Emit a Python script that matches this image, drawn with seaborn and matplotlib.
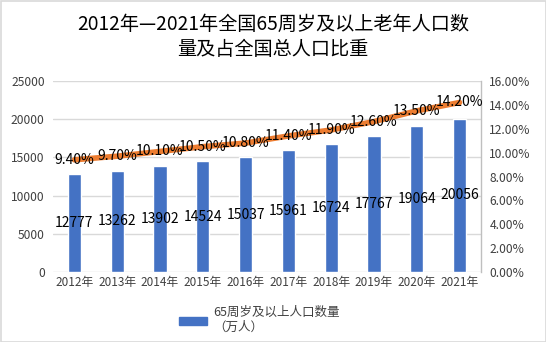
import matplotlib
matplotlib.use("Agg")
import matplotlib.pyplot as plt
import seaborn as sns
import numpy as np
import pandas as pd
from matplotlib.patches import Rectangle, Patch

years = ["2012年", "2013年", "2014年", "2015年", "2016年", "2017年", "2018年", "2019年", "2020年", "2021年"]
population = [12777, 13262, 13902, 14524, 15037, 15961, 16724, 17767, 19064, 20056]
share_pct = [9.40, 9.70, 10.10, 10.50, 10.80, 11.40, 11.90, 12.60, 13.50, 14.20]
left_ticks = [0, 5000, 10000, 15000, 20000, 25000]
right_ticks = [0, 2, 4, 6, 8, 10, 12, 14, 16]
title = "2012年—2021年全国65周岁及以上老年人口数\n量及占全国总人口比重"
legend_label = "65周岁及以上人口数量\n（万人）"

sns.set_theme(style="white")
plt.rcParams['font.family'] = ['Noto Sans CJK SC', 'DejaVu Sans']

BLUE = "#4472C4"
ORANGE = "#ED7D31"
GRID = "#D9D9D9"
TXT = "#404040"

df = pd.DataFrame({"year": years, "pop": population, "pct": share_pct})

fig = plt.figure(figsize=(5.46, 3.42), dpi=100)
ax = fig.add_axes([53/546, 1-272/342, (481-53)/546, (272-81)/342])

sns.barplot(data=df, x="year", y="pop", color=BLUE, width=0.31, ax=ax, saturation=1)
ax.set_ylim(0, 25000)
ax.set_xlim(-0.5, len(years) - 0.5)
ax.set_yticks(left_ticks)
ax.set_yticklabels([str(t) for t in left_ticks], fontsize=8.7, color=TXT)
ax.tick_params(axis='x', labelsize=8.5, colors=TXT, length=0, pad=3)
ax.tick_params(axis='y', length=0, pad=6)
ax.set_xlabel("")
ax.set_ylabel("")
ax.grid(axis='y', color=GRID, lw=1)
ax.set_axisbelow(True)
for s in ["left", "top", "bottom", "right"]:
    ax.spines[s].set_visible(False)

for i, v in enumerate(population):
    ax.text(i, v / 2, str(v), ha='center', va='center', fontsize=10, color='black')

ax2 = ax.twinx()
sns.lineplot(x=np.arange(len(years)), y=share_pct, color=ORANGE, lw=4, ax=ax2)
ax2.set_ylim(0, 16)
ax2.set_yticks(right_ticks)
ax2.set_yticklabels([f"{t:.2f}%" for t in right_ticks], fontsize=8.7, color=TXT)
ax2.tick_params(axis='y', length=0, pad=6)
ax2.set_ylabel("")
for s in ["left", "top", "bottom"]:
    ax2.spines[s].set_visible(False)
ax2.spines["right"].set_color("#BFBFBF")
ax2.spines["right"].set_linewidth(1)
for i, v in enumerate(share_pct):
    ax2.text(i, v, f"{v:.2f}%", ha='center', va='center', fontsize=10, color='black')

fig.text(0.5, 1 - 37/342, title, ha='center', va='center', fontsize=13.8, color='black', linespacing=1.3)

handle = Patch(facecolor=BLUE, edgecolor=BLUE)
fig.legend([handle], [legend_label], loc='upper center', bbox_to_anchor=(0.475, 1 - 295/342),
           frameon=False, fontsize=9, handlelength=2.2, handleheight=0.65, handletextpad=0.5,
           labelcolor=TXT)

fig.patches.append(Rectangle((0.5/546, 0.5/342), 545/546, 341/342, transform=fig.transFigure,
                             fill=False, edgecolor="#D9D9D9", lw=1.2))

fig.savefig("out.png", dpi=100)
